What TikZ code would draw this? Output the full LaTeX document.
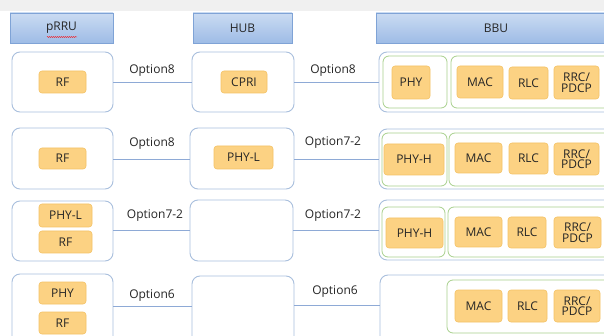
\documentclass[tikz,border=0pt]{standalone}
\usepackage{fontspec}
\setmainfont{Open Sans}
\usetikzlibrary{decorations.pathmorphing}
\definecolor{hdtop}{HTML}{CADBF2}
\definecolor{hdbot}{HTML}{9EBCE6}
\definecolor{hdedge}{HTML}{7FA3D6}
\definecolor{outedge}{HTML}{A9BFDD}
\definecolor{grnedge}{HTML}{A8D08D}
\definecolor{orfill}{HTML}{FCD283}
\definecolor{oredge}{HTML}{F4C265}
\definecolor{lncol}{HTML}{8EAAD6}
\definecolor{txt}{HTML}{262626}
\tikzset{
  hdr/.style={draw=hdedge, top color=hdtop, bottom color=hdbot, line width=0.8pt,
    minimum width=#1, inner sep=0pt, minimum height=30pt, font=\fontsize{12}{13}\selectfont, text=txt},
  outer/.style={draw=outedge, line width=0.9pt, rounded corners=8pt, inner sep=0pt, fill=white},
  grn/.style={draw=grnedge, line width=0.8pt, rounded corners=6pt, inner sep=0pt},
  fn/.style={draw=oredge, fill=orfill, line width=0.6pt, rounded corners=3pt, inner sep=0pt,
    font=\fontsize{12}{12.5}\selectfont, text=txt, align=center},
  lnk/.style={draw=lncol, line width=0.9pt},
  lbl/.style={font=\fontsize{12}{13}\selectfont, text=txt, inner sep=0pt}
}
\newcommand{\bx}[6]{% style, name, x1, y1, x2, y2
  \node[#1, minimum width={(#5-#3)*1pt}, minimum height={(#6-#4)*1pt}] (#2) at ({(#3+#5)/2}, {(#4+#6)/2}) {};}
\newcommand{\fb}[7]{% name, x1, y1, x2, y2, text
  \node[fn, minimum width={(#4-#2)*1pt}, minimum height={(#5-#3)*1pt}] (#1) at ({(#2+#4)/2}, {(#3+#5)/2}) {#6};}
\begin{document}
\begin{tikzpicture}[x=1pt, y=-1pt]
\useasboundingbox (0,0) rectangle (604,336);
\clip (0,0) rectangle (604,336);
\fill[white] (0,0) rectangle (604,336);
\fill[black!6] (0,0) rectangle (604,11);
% headers
\node[hdr=103pt] (hp) at (61.5,28) {pRRU};
\node[hdr=99pt] (hh) at (242.5,28) {HUB};
\node[hdr=240pt] (hb) at (496,28) {BBU};
\draw[red, line width=0.4pt, decorate, decoration={snake, amplitude=0.5pt, segment length=2pt}] (47,37) -- (77,37);
% ---------- row 1
\bx{outer}{p1}{12}{52}{113}{112}
\fb{rf1}{39}{71}{86}{93}{RF}{}
\bx{outer}{h1}{192}{52}{294}{112}
\fb{cpri}{221}{71}{267}{93}{CPRI}{}
\bx{outer}{b1}{379}{52}{614}{112}
\bx{grn}{g1a}{383}{56}{447}{108}
\bx{grn}{g1b}{451}{56}{610}{108}
\fb{phy1}{392}{66}{430}{99}{PHY}{}
\fb{mac1}{457}{66}{503}{98}{MAC}{}
\fb{rlc1}{509}{67}{548}{99}{RLC}{}
\fb{rrc1}{554}{66}{599}{99}{RRC/\\[-2pt]PDCP}{}
\draw[lnk] (p1.east |- 0,82) -- (h1.west |- 0,82);
\draw[lnk] (h1.east |- 0,82) -- (b1.west |- 0,82);
\node[lbl] (o11) at (152,71) {Option8};
\node[lbl] (o12) at (333,71) {Option8};
% ---------- row 2
\bx{outer}{p2}{12}{128}{113}{189}
\fb{rf2}{39}{148}{86}{169}{RF}{}
\bx{outer}{h2}{190}{128}{294}{189}
\fb{phyl2}{214}{146}{273}{169}{PHY-L}{}
\bx{outer}{b2}{379}{129}{614}{189}
\bx{grn}{g2a}{382}{133}{447}{186}
\bx{grn}{g2b}{449}{133}{610}{186}
\fb{phyh2}{384}{144}{444}{175}{PHY-H}{}
\fb{mac2}{455}{143}{502}{173}{MAC}{}
\fb{rlc2}{509}{143}{548}{174}{RLC}{}
\fb{rrc2}{554}{143}{599}{175}{RRC/\\[-2pt]PDCP}{}
\draw[lnk] (p2.east |- 0,159) -- (h2.west |- 0,159);
\draw[lnk] (h2.east |- 0,159) -- (b2.west |- 0,159);
\node[lbl] (o21) at (152,144) {Option8};
\node[lbl] (o22) at (333,143) {Option7-2};
% ---------- row 3
\bx{outer}{p3}{12}{201}{113}{261}
\fb{phyl3}{39}{204}{92}{227}{PHY-L}{}
\fb{rf3}{39}{231}{92}{253}{RF}{}
\bx{outer}{h3}{190}{200}{293}{261}
\bx{outer}{b3}{379}{200}{614}{260}
\bx{grn}{g3a}{382}{207}{445}{257}
\bx{grn}{g3b}{448}{207}{610}{257}
\fb{phyh3}{386}{218}{443}{248}{PHY-H}{}
\fb{mac3}{455}{217}{502}{247}{MAC}{}
\fb{rlc3}{508}{217}{546}{248}{RLC}{}
\fb{rrc3}{554}{217}{601}{248}{RRC/\\[-2pt]PDCP}{}
\draw[lnk] (p3.east |- 0,230) -- (h3.west |- 0,230);
\draw[lnk] (h3.east |- 0,230) -- (b3.west |- 0,230);
\node[lbl] (o31) at (155,216) {Option7-2};
\node[lbl] (o32) at (333,216) {Option7-2};
% ---------- row 4
\bx{outer}{p4}{12}{274}{113}{344}
\fb{phy4}{39}{282}{86}{304}{PHY}{}
\fb{rf4}{39}{312}{86}{334}{RF}{}
\bx{outer}{h4}{192}{276}{294}{344}
\bx{outer}{b4}{380}{275}{614}{344}
\bx{grn}{g4}{447}{280}{610}{333}
\fb{mac4}{455}{290}{502}{322}{MAC}{}
\fb{rlc4}{508}{290}{547}{322}{RLC}{}
\fb{rrc4}{554}{290}{600}{322}{RRC/\\[-2pt]PDCP}{}
\draw[lnk] (p4.east |- 0,306) -- (h4.west |- 0,306);
\draw[lnk] (h4.east |- 0,305) -- (b4.west |- 0,305);
\node[lbl] (o41) at (152,296) {Option6};
\node[lbl] (o42) at (335,292) {Option6};
\end{tikzpicture}
\end{document}
